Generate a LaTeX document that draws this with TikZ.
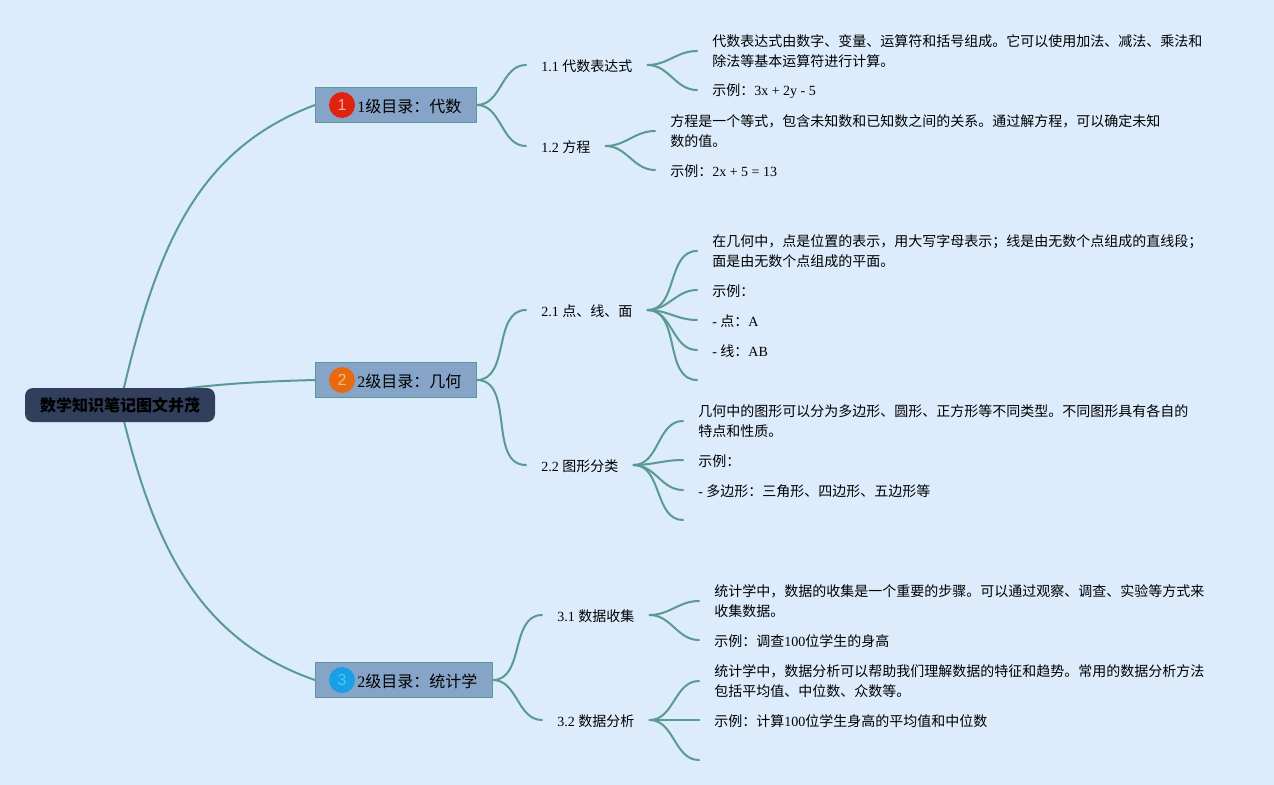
\documentclass[tikz,border=0pt]{standalone}
\usepackage{fontspec}
\setmainfont{Liberation Serif}
\newfontfamily\cjk{Noto Sans CJK SC}
\newfontfamily\badgefont{Liberation Sans}
\usetikzlibrary{backgrounds}
\newcommand{\zh}[1]{{\cjk #1}}
\newcommand{\lowered}[1]{\raisebox{-0.75pt}[\height][\depth]{#1}}
\definecolor{bgcol}{HTML}{DCECFD}
\definecolor{linkcol}{HTML}{5A9A93}
\definecolor{rootcol}{HTML}{323F5C}
\definecolor{topiccol}{HTML}{86A4C8}
\tikzset{
  link/.style={draw=linkcol,line width=1.5pt,line cap=round},
  rootnode/.style={fill=rootcol,rounded corners=6pt,minimum width=142.5pt,minimum height=25.5pt,inner sep=0pt,
    font=\fontsize{12pt}{15pt}\selectfont\cjk\bfseries},
  topic/.style={anchor=west,fill=topiccol,draw=linkcol,line width=0.6pt,minimum height=26.25pt,inner ysep=0pt,inner xsep=11.25pt,
    font=\fontsize{12pt}{15pt}\selectfont},
  badge/.style={circle,minimum size=19.5pt,inner sep=0pt,font=\fontsize{12pt}{15pt}\selectfont\badgefont},
  sub/.style={anchor=west,inner xsep=11.25pt,inner ysep=0pt,font=\fontsize{10.5pt}{15pt}\selectfont},
  leaf/.style={anchor=west,align=left,inner xsep=11.25pt,inner ysep=0pt,font=\fontsize{10.5pt}{15pt}\selectfont},
}
\begin{document}
\begin{tikzpicture}[x=0.75pt,y=-0.75pt]
  \useasboundingbox (0,0) rectangle (1274,785);

  % Root and first level
  \node[rootnode] (root) at (120,405) {数学知识笔记图文并茂};
  \node[topic] (t1) at (315,105) {\hspace*{20.25pt}\lowered{1\zh{级目录：代数}}};
  \node[topic] (t2) at (315,380) {\hspace*{20.25pt}\lowered{2\zh{级目录：几何}}};
  \node[topic] (t3) at (315,680) {\hspace*{20.25pt}\lowered{2\zh{级目录：统计学}}};
  \node[badge,fill={rgb,255:red,224;green,35;blue,15},text=white!65!red] (b1) at (342,105) {1};
  \node[badge,fill={rgb,255:red,232;green,106;blue,16},text=white!45!orange] (b2) at (342,380) {2};
  \node[badge,fill={rgb,255:red,23;green,160;blue,232},text=white!30!cyan] (b3) at (342,680) {3};

  % Second level
  \node[sub] (s11) at (526,65) {\lowered{1.1 \zh{代数表达式}}};
  \node[sub] (s12) at (526,146) {\lowered{1.2 \zh{方程}}};
  \node[sub] (s21) at (526,310) {\lowered{2.1 \zh{点、线、面}}};
  \node[sub] (s22) at (526,465) {\lowered{2.2 \zh{图形分类}}};
  \node[sub] (s31) at (542,615) {\lowered{3.1 \zh{数据收集}}};
  \node[sub] (s32) at (542,720) {\lowered{3.2 \zh{数据分析}}};

  % Texts of 1.1 and 1.2
  \node[leaf] (l111) at (697,51) {\zh{代数表达式由数字、变量、运算符和括号组成。它可以使用加法、减法、乘法和}\\\zh{除法等基本运算符进行计算。}};
  \node[leaf] (l112) at (697,90) {\lowered{\zh{示例：}3x + 2y - 5}};
  \node[leaf] (l121) at (655,131) {\zh{方程是一个等式，包含未知数和已知数之间的关系。通过解方程，可以确定未知}\\\zh{数的值。}};
  \node[leaf] (l122) at (655,170) {\lowered{\zh{示例：}2x + 5 = 13}};

  % Texts of 2.1 and 2.2
  \node[leaf] (l211) at (697,251) {\zh{在几何中，点是位置的表示，用大写字母表示；线是由无数个点组成的直线段；}\\\zh{面是由无数个点组成的平面。}};
  \node[leaf] (l212) at (697,290) {\lowered{\zh{示例：}}};
  \node[leaf] (l213) at (697,320) {\lowered{- \zh{点：}A}};
  \node[leaf] (l214) at (697,350) {\lowered{- \zh{线：}AB}};
  \coordinate (l215) at (697,380);
  \node[leaf] (l221) at (683,421) {\zh{几何中的图形可以分为多边形、圆形、正方形等不同类型。不同图形具有各自的}\\\zh{特点和性质。}};
  \node[leaf] (l222) at (683,460) {\lowered{\zh{示例：}}};
  \node[leaf] (l223) at (683,490) {\lowered{- \zh{多边形：三角形、四边形、五边形等}}};
  \coordinate (l224) at (683,520);

  % Texts of 3.1 and 3.2
  \node[leaf] (l311) at (699,601) {\zh{统计学中，数据的收集是一个重要的步骤。可以通过观察、调查、实验等方式来}\\\zh{收集数据。}};
  \node[leaf] (l312) at (699,640) {\lowered{\zh{示例：调查}100\zh{位学生的身高}}};
  \node[leaf] (l321) at (699,681) {\zh{统计学中，数据分析可以帮助我们理解数据的特征和趋势。常用的数据分析方法}\\\zh{包括平均值、中位数、众数等。}};
  \node[leaf] (l322) at (699,720) {\lowered{\zh{示例：计算}100\zh{位学生身高的平均值和中位数}}};
  \coordinate (l323) at (699,760);

  \begin{scope}[on background layer]
    \fill[bgcol] (0,0) rectangle (1274,785);

    % Links from the root
    \draw[link] (root.center) .. controls (155,250) and (195,150) .. (t1.west);
    \draw[link] (root.center) .. controls (152,388) and (235,382) .. (t2.west);
    \draw[link] (root.center) .. controls (150,530) and (190,637) .. (t3.west);

    % Links to second level
    \draw[link] (t1.east) to[out=0,in=180] (s11.west);
    \draw[link] (t1.east) to[out=0,in=180] (s12.west);
    \draw[link] (t2.east) to[out=0,in=180] (s21.west);
    \draw[link] (t2.east) to[out=0,in=180] (s22.west);
    \draw[link] (t3.east) to[out=0,in=180] (s31.west);
    \draw[link] (t3.east) to[out=0,in=180] (s32.west);

    % Links to the texts
    \draw[link] (s11.east) to[out=0,in=180] (l111.west);
    \draw[link] (s11.east) to[out=0,in=180] (l112.west);
    \draw[link] (s12.east) to[out=0,in=180] (l121.west);
    \draw[link] (s12.east) to[out=0,in=180] (l122.west);
    \draw[link] (s21.east) to[out=0,in=180] (l211.west);
    \draw[link] (s21.east) to[out=0,in=180] (l212.west);
    \draw[link] (s21.east) to[out=0,in=180] (l213.west);
    \draw[link] (s21.east) to[out=0,in=180] (l214.west);
    \draw[link] (s21.east) to[out=0,in=180] (l215);
    \draw[link] (s22.east) to[out=0,in=180] (l221.west);
    \draw[link] (s22.east) to[out=0,in=180] (l222.west);
    \draw[link] (s22.east) to[out=0,in=180] (l223.west);
    \draw[link] (s22.east) to[out=0,in=180] (l224);
    \draw[link] (s31.east) to[out=0,in=180] (l311.west);
    \draw[link] (s31.east) to[out=0,in=180] (l312.west);
    \draw[link] (s32.east) to[out=0,in=180] (l321.west);
    \draw[link] (s32.east) -- (l322.west);
    \draw[link] (s32.east) to[out=0,in=180] (l323);
  \end{scope}
\end{tikzpicture}
\end{document}
